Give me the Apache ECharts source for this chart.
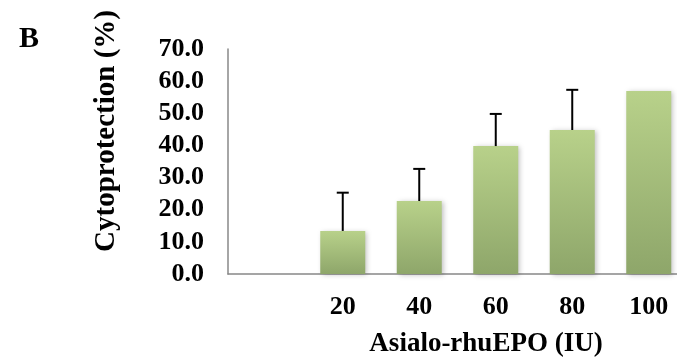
<!DOCTYPE html>
<html>
<head>
<meta charset="utf-8">
<script src="https://cdn.jsdelivr.net/npm/echarts@6/dist/echarts.min.js"></script>
<style>html,body{margin:0;padding:0;background:#fff;overflow:hidden;}#c{width:690px;height:357px;}</style>
</head>
<body>
<div id="c"></div>
<script>
var categories = ['', '20', '40', '60', '80', '100'];
var values = [null, 13.4, 22.7, 39.8, 44.8, 56.9];
var errorTops = [null, 25.3, 32.7, 49.8, 57.3, null];
var yTicks = [0, 10, 20, 30, 40, 50, 60, 70];

var font = '"Liberation Serif", "Times New Roman", serif';
var chart = echarts.init(document.getElementById('c'));
var errData = categories.map(function (c, i) { return [i, values[i], errorTops[i]]; })
  .filter(function (d) { return d[1] != null && d[2] != null; });

chart.setOption({
  animation: false,
  grid: { left: 228, top: 49, width: 459, height: 225, containLabel: false },
  xAxis: {
    type: 'category',
    data: categories,
    axisLine: { lineStyle: { color: '#888', width: 1.5 } },
    axisTick: { show: false },
    axisLabel: { color: '#000', fontFamily: font, fontWeight: 'bold', fontSize: 26, margin: 20 }
  },
  yAxis: {
    type: 'value',
    min: yTicks[0], max: yTicks[yTicks.length - 1], interval: 10,
    splitLine: { show: false },
    axisLine: { show: true, lineStyle: { color: '#888', width: 1.5 } },
    axisTick: { show: false },
    axisLabel: { color: '#000', fontFamily: font, fontWeight: 'bold', fontSize: 26, margin: 24,
      formatter: function (v) { return v.toFixed(1); } }
  },
  graphic: [
    { type: 'text', x: 29, y: 39, style: { text: 'B', font: 'bold 30px ' + font, fill: '#000', align: 'center', verticalAlign: 'middle' } },
    { type: 'text', x: 107, y: 131, rotation: Math.PI / 2,
      style: { text: 'Cytoprotection (%)', font: 'bold 29px ' + font, fill: '#000', align: 'center', verticalAlign: 'middle' } },
    { type: 'text', x: 486, y: 344,
      style: { text: 'Asialo-rhuEPO (IU)', font: 'bold 27px ' + font, fill: '#000', align: 'center', verticalAlign: 'middle' } }
  ],
  series: [
    {
      type: 'bar',
      data: values,
      barWidth: 45,
      itemStyle: {
        color: new echarts.graphic.LinearGradient(0, 0, 0, 1, [
          { offset: 0, color: '#b8d18a' },
          { offset: 1, color: '#8ea66a' }
        ]),
        shadowBlur: 5, shadowColor: 'rgba(0,0,0,0.25)', shadowOffsetX: 2, shadowOffsetY: 1
      }
    },
    {
      type: 'custom',
      data: errData,
      z: 5,
      renderItem: function (params, api) {
        var x = api.value(0);
        var base = api.coord([x, api.value(1)]);
        var top = api.coord([x, api.value(2)]);
        return {
          type: 'group',
          children: [
            { type: 'line', shape: { x1: base[0], y1: base[1], x2: top[0], y2: top[1] }, style: { stroke: '#000', lineWidth: 2 } },
            { type: 'line', shape: { x1: top[0] - 6, y1: top[1], x2: top[0] + 6, y2: top[1] }, style: { stroke: '#000', lineWidth: 2 } }
          ]
        };
      }
    }
  ]
});
</script>
</body>
</html>
